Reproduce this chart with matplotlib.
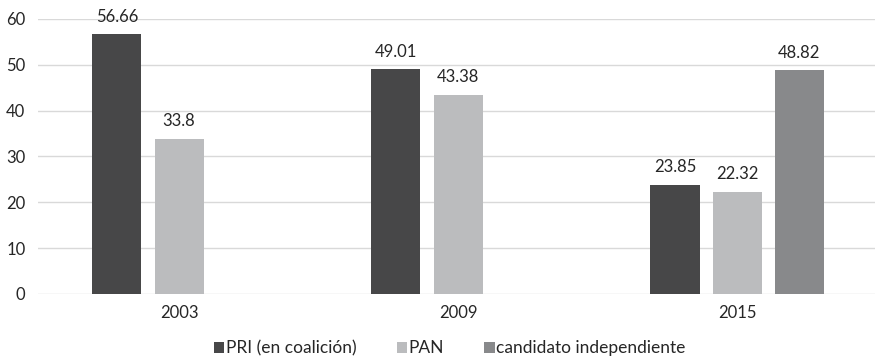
import numpy as np
import matplotlib.pyplot as plt
from matplotlib.patches import Patch

plt.rcParams['font.family'] = ['Lato', 'DejaVu Sans']

years = ['2003', '2009', '2015']
series_names = ['PRI (en coalición)', 'PAN', 'candidato independiente']
pri = [56.66, 49.01, 23.85]
pan = [33.8, 43.38, 22.32]
independiente = [np.nan, np.nan, 48.82]
colors = ['#474748', '#bbbcbe', '#88898b']

fig = plt.figure(figsize=(8.75, 3.61), dpi=100)
ax = fig.add_axes([0.0434, 0.1856, 0.9566, 0.7618])

x = np.arange(len(years))
width = 0.176
step = 0.223
for i, (vals, col, name) in enumerate(zip([pri, pan, independiente], colors, series_names)):
    offs = (i - 1) * step
    for xi, v in zip(x, vals):
        if np.isnan(v):
            continue
        ax.bar(xi + offs, v, width, color=col, zorder=3)
        ax.annotate(f'{v:g}', (xi + offs, v), xytext=(0, 7), textcoords='offset points',
                    ha='center', va='bottom', fontsize=12, color='#262626')

ax.set_xlim(-0.506, 2.494)
ax.set_ylim(0, 60)
ax.set_yticks(range(0, 61, 10))
ax.set_xticks(x)
ax.set_xticklabels(years)
ax.tick_params(axis='both', length=0, labelsize=12, colors='#262626')
ax.tick_params(axis='y', pad=9)
ax.tick_params(axis='x', pad=8)
ax.grid(axis='y', color='#d9d9d9', linewidth=1, zorder=0)
for s in ax.spines.values():
    s.set_visible(False)

handles = [Patch(facecolor=c, edgecolor='none') for c in colors]
fig.legend(handles, series_names, loc='lower center', bbox_to_anchor=(0.514, -0.03),
           ncol=3, frameon=False, fontsize=12.5, handlelength=0.6, handleheight=0.6,
           handletextpad=0.1, columnspacing=2.3, labelcolor='#262626')

fig.savefig('out.png', dpi=100)
